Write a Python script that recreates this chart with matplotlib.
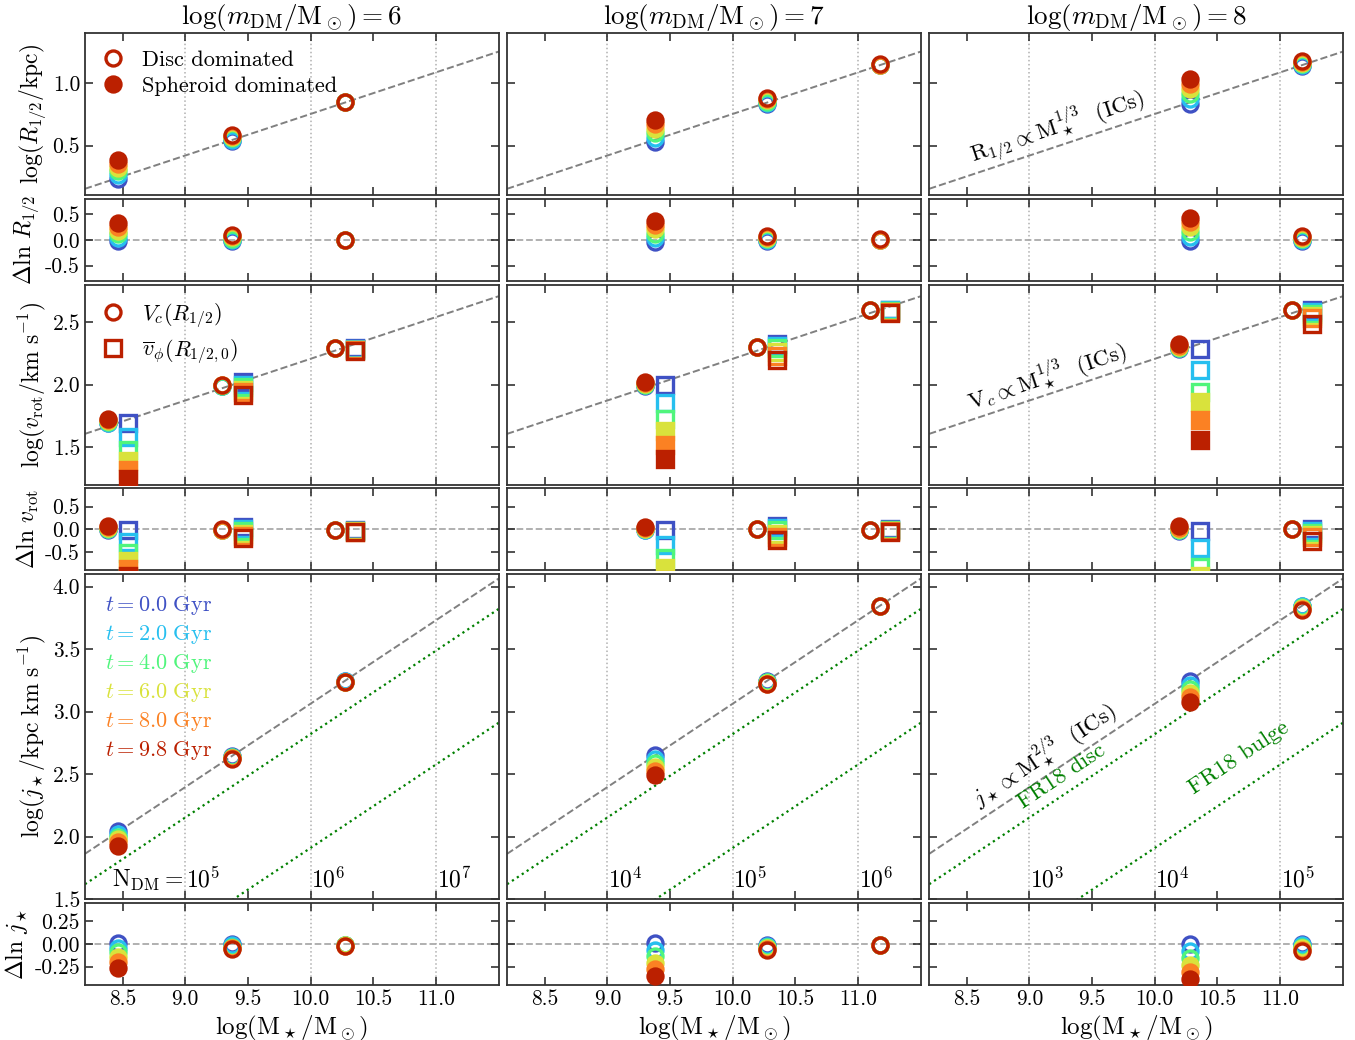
import numpy as np
import matplotlib
matplotlib.use("Agg")
import matplotlib.pyplot as plt
from matplotlib.lines import Line2D
from matplotlib.ticker import FormatStrFormatter

# Style proche de LaTeX (Computer Modern)
plt.rcParams['font.family'] = 'serif'
plt.rcParams['font.serif'] = ['cmr10']
plt.rcParams['mathtext.fontset'] = 'cm'
plt.rcParams['axes.unicode_minus'] = False
plt.rcParams['axes.formatter.use_mathtext'] = False

# ---- donnees ----
times = [0.0, 2.0, 4.0, 6.0, 8.0, 9.8]
time_colors = ['#3f51c4', '#26bfef', '#50f57c', '#d9e23c', '#fb8123', '#bb2000']
mdm_values = [6, 7, 8]

# log(M*/Msun) des galaxies, par resolution
logM_6 = [8.466, 9.377, 10.277]
logM_7 = [9.377, 10.277, 11.177]
logM_8 = [10.277, 11.177]

# log(R1/2 / kpc)
logR_6 = [[0.232, 0.262, 0.292, 0.322, 0.352, 0.385],
          [0.537, 0.547, 0.557, 0.567, 0.576, 0.585],
          [0.846, 0.846, 0.847, 0.847, 0.848, 0.848]]
logR_7 = [[0.527, 0.563, 0.599, 0.635, 0.671, 0.707],
          [0.835, 0.844, 0.852, 0.861, 0.870, 0.878],
          [1.145, 1.146, 1.147, 1.148, 1.149, 1.150]]
logR_8 = [[0.835, 0.875, 0.915, 0.955, 0.995, 1.030],
          [1.135, 1.144, 1.153, 1.162, 1.171, 1.180]]

# log(Vc(R1/2) / km s^-1)
logVc_6 = [[1.690, 1.695, 1.700, 1.710, 1.720, 1.728],
           [1.990, 1.990, 1.992, 1.995, 1.997, 2.000],
           [2.290, 2.290, 2.290, 2.290, 2.290, 2.290]]
logVc_7 = [[1.990, 1.995, 2.000, 2.005, 2.010, 2.020],
           [2.300, 2.300, 2.300, 2.300, 2.300, 2.300],
           [2.594, 2.594, 2.594, 2.594, 2.594, 2.594]]
logVc_8 = [[2.288, 2.290, 2.295, 2.300, 2.310, 2.328],
           [2.600, 2.600, 2.600, 2.600, 2.600, 2.600]]

# log(vphi(R1/2,0) / km s^-1)
logVphi_6 = [[1.693, 1.580, 1.474, 1.394, 1.320, 1.248],
             [2.020, 2.000, 1.980, 1.960, 1.940, 1.920],
             [2.290, 2.285, 2.280, 2.280, 2.275, 2.270]]
logVphi_7 = [[1.995, 1.853, 1.728, 1.629, 1.520, 1.408],
             [2.328, 2.310, 2.290, 2.260, 2.230, 2.195],
             [2.600, 2.595, 2.590, 2.585, 2.580, 2.575]]
logVphi_8 = [[2.288, 2.120, 1.940, 1.860, 1.720, 1.560],
             [2.600, 2.580, 2.565, 2.550, 2.530, 2.488]]

# log(j* / kpc km s^-1)
logj_6 = [[2.045, 2.020, 2.000, 1.980, 1.955, 1.925],
          [2.645, 2.640, 2.635, 2.630, 2.627, 2.622],
          [3.242, 3.241, 3.240, 3.240, 3.239, 3.238]]
logj_7 = [[2.650, 2.619, 2.588, 2.557, 2.526, 2.495],
          [3.241, 3.237, 3.233, 3.228, 3.224, 3.220],
          [3.842, 3.842, 3.842, 3.842, 3.842, 3.842]]
logj_8 = [[3.247, 3.214, 3.180, 3.147, 3.113, 3.080],
          [3.848, 3.841, 3.834, 3.827, 3.820, 3.813]]

# domine par le spheroide (symbole plein)
spheroid_6 = [[0, 0, 0, 1, 1, 1], [0] * 6, [0] * 6]
spheroid_7 = [[0, 0, 0, 1, 1, 1], [0] * 6, [0] * 6]
spheroid_8 = [[0, 0, 0, 1, 1, 1], [0] * 6]

# N_DM correspondant aux lignes verticales
ndm_ticks = [9.0, 10.0, 11.0]
ndm_labels_6 = ['10^5', '10^6', '10^7']
ndm_labels_7 = ['10^4', '10^5', '10^6']
ndm_labels_8 = ['10^3', '10^4', '10^5']

# relations de reference: valeur a x = 8.2 et pente
x_ref = 8.2
R_ic = (0.153, 1 / 3)
V_ic = (1.607, 1 / 3)
j_ic = (1.863, 2 / 3)
fr18_disc = (1.62, 2 / 3)
fr18_bulge = (0.71, 2 / 3)

columns = {
    6: dict(x=logM_6, R=logR_6, Vc=logVc_6, Vphi=logVphi_6, j=logj_6, sph=spheroid_6, ndm=ndm_labels_6),
    7: dict(x=logM_7, R=logR_7, Vc=logVc_7, Vphi=logVphi_7, j=logj_7, sph=spheroid_7, ndm=ndm_labels_7),
    8: dict(x=logM_8, R=logR_8, Vc=logVc_8, Vphi=logVphi_8, j=logj_8, sph=spheroid_8, ndm=ndm_labels_8),
}


def rel(p, x):
    return p[0] + p[1] * (np.asarray(x) - x_ref)


xlim = (8.2, 11.5)
ylims = [(0.1, 1.4), (-0.8, 0.8), (1.2, 2.8), (-0.9, 0.9), (1.5, 4.1), (-0.45, 0.45)]
yticks = [[0.5, 1.0], [-0.5, 0.0, 0.5], [1.5, 2.0, 2.5], [-0.5, 0.0, 0.5],
          [1.5, 2.0, 2.5, 3.0, 3.5, 4.0], [-0.25, 0.0, 0.25]]
ylabels = [r'$\log(R_{1/2}/\mathrm{kpc})$', r'$\Delta\ln\,R_{1/2}$',
           r'$\log(v_\mathrm{rot}/\mathrm{km\ s^{-1}})$', r'$\Delta\ln\,v_\mathrm{rot}$',
           r'$\log(j_\star/\mathrm{kpc\ km\ s^{-1}})$', r'$\Delta\ln\,j_\star$']

fig = plt.figure(figsize=(13.55, 10.4), dpi=100)
gs = fig.add_gridspec(6, 3, height_ratios=[162, 82, 200, 82, 325, 82],
                      left=0.0627, right=0.991, top=0.968, bottom=0.053,
                      hspace=0.023, wspace=0.0206)
axes = np.array([[fig.add_subplot(gs[r, c]) for c in range(3)] for r in range(6)])

ms_c = 10.8
ms_s = 11.2
mew = 2.4
dx = 0.08
ln10 = np.log(10)

for c, mdm in enumerate(mdm_values):
    d = columns[mdm]
    xg = np.array(d['x'])
    for r in range(6):
        ax = axes[r, c]
        ax.set_xlim(*xlim)
        ax.set_ylim(*ylims[r])
        ax.set_yticks(yticks[r])
        ax.set_xticks([8.5, 9.0, 9.5, 10.0, 10.5, 11.0])
        ax.xaxis.set_major_formatter(FormatStrFormatter('%.1f'))
        ax.yaxis.set_major_formatter(FormatStrFormatter('%.2f' if r == 5 else '%.1f'))
        ax.tick_params(direction='in', top=True, right=True, length=6, width=1.1,
                       labelsize=15.5, colors='#222222', labelcolor='black')
        for s in ax.spines.values():
            s.set_linewidth(1.3)
            s.set_color('#333333')
        for xv in ndm_ticks:
            ax.axvline(xv, color='#b0b0b0', ls=':', lw=1.1, zorder=0)
        if r in (1, 3, 5):
            ax.axhline(0, color='#aaaaaa', ls='--', lw=1.3, zorder=0)
        if c != 0:
            ax.set_yticklabels([])
        else:
            ax.set_ylabel(ylabels[r], fontsize=17, labelpad=3)
        if r != 5:
            ax.set_xticklabels([])
        else:
            ax.set_xlabel(r'$\log(\mathrm{M}_\star/\mathrm{M}_\odot)$', fontsize=18, labelpad=3)

    xx = np.array(xlim)
    axes[0, c].plot(xx, rel(R_ic, xx), ls='--', color='#808080', lw=1.4, zorder=1)
    axes[2, c].plot(xx, rel(V_ic, xx), ls='--', color='#808080', lw=1.4, zorder=1)
    axes[4, c].plot(xx, rel(j_ic, xx), ls='--', color='#808080', lw=1.4, zorder=1)
    axes[4, c].plot(xx, rel(fr18_disc, xx), ls=':', color='green', lw=1.6, zorder=1)
    axes[4, c].plot(xx, rel(fr18_bulge, xx), ls=':', color='green', lw=1.6, zorder=1)

    axes[0, c].set_title(r'$\log(m_\mathrm{DM}/\mathrm{M}_\odot)=%d$' % mdm, fontsize=19.5, pad=3)

    # points, dans l'ordre du temps
    for k, col in enumerate(time_colors):
        for g in range(len(xg)):
            fc = col if d['sph'][g][k] else 'none'
            R = d['R'][g][k]
            Vc = d['Vc'][g][k]
            Vp = d['Vphi'][g][k]
            J = d['j'][g][k]
            kw = dict(mec=col, mfc=fc, mew=mew, ls='none', zorder=3 + k)
            axes[0, c].plot(xg[g], R, 'o', ms=ms_c, **kw)
            axes[1, c].plot(xg[g], ln10 * (R - rel(R_ic, xg[g])), 'o', ms=ms_c, **kw)
            axes[2, c].plot(xg[g] - dx, Vc, 'o', ms=ms_c, **kw)
            axes[2, c].plot(xg[g] + dx, Vp, 's', ms=ms_s, **kw)
            axes[3, c].plot(xg[g] - dx, ln10 * (Vc - rel(V_ic, xg[g])), 'o', ms=ms_c, **kw)
            axes[3, c].plot(xg[g] + dx, ln10 * (Vp - rel(V_ic, xg[g])), 's', ms=ms_s, **kw)
            axes[4, c].plot(xg[g], J, 'o', ms=ms_c, **kw)
            axes[5, c].plot(xg[g], ln10 * (J - rel(j_ic, xg[g])), 'o', ms=ms_c, **kw)

    # etiquettes N_DM
    for xv, lab in zip(ndm_ticks, d['ndm']):
        axes[4, c].text(xv + 0.005, 1.595, r'$%s$' % lab, fontsize=17, ha='left', va='baseline')
    if c == 0:
        axes[4, c].text(8.985, 1.595, r'$\mathrm{N_{DM}}=$', fontsize=17, ha='right', va='baseline')

# legendes
red = time_colors[-1]
leg_kw = dict(loc='upper left', frameon=False, fontsize=16, handlelength=1.0,
              handletextpad=0.8, borderaxespad=0.45, labelspacing=0.32, borderpad=0.3)
h0 = [Line2D([], [], marker='o', ls='none', mec=red, mfc='none', mew=mew, ms=ms_c),
      Line2D([], [], marker='o', ls='none', mec=red, mfc=red, mew=mew, ms=ms_c)]
axes[0, 0].legend(h0, ['Disc dominated', 'Spheroid dominated'], **leg_kw)
h2 = [Line2D([], [], marker='o', ls='none', mec=red, mfc='none', mew=mew, ms=ms_c),
      Line2D([], [], marker='s', ls='none', mec=red, mfc='none', mew=mew, ms=ms_s)]
axes[2, 0].legend(h2, [r'$V_c(R_{1/2})$', r'$\overline{v}_\phi(R_{1/2,0})$'], **leg_kw)
h4 = [Line2D([], [], ls='none') for _ in times]
axes[4, 0].legend(h4, [r'$t=%.1f\ \mathrm{Gyr}$' % t for t in times], loc='upper left',
                  frameon=False, fontsize=16, handlelength=0, handletextpad=0,
                  labelcolor=time_colors, borderaxespad=0.5, labelspacing=0.27, borderpad=0.4)


def line_angle(ax, p):
    x0, x1 = 9.0, 10.0
    a = ax.transData.transform([(x0, rel(p, x0)), (x1, rel(p, x1))])
    return np.degrees(np.arctan2(a[1, 1] - a[0, 1], a[1, 0] - a[0, 0]))


# annotations le long des relations (colonne de droite)
ann_kw = dict(fontsize=16.5, rotation_mode='anchor', ha='left', va='bottom')
axr = axes[0, 2]
axr.text(8.57, rel(R_ic, 8.57) + 0.02, r'$\mathrm{R}_{1/2}\propto\mathrm{M}_\star^{1/3}\ $ (ICs)',
         rotation=line_angle(axr, R_ic), **ann_kw)
axr = axes[2, 2]
axr.text(8.55, rel(V_ic, 8.55) + 0.02, r'$\mathrm{V}_c\propto\mathrm{M}_\star^{1/3}\ $ (ICs)',
         rotation=line_angle(axr, V_ic), **ann_kw)
axr = axes[4, 2]
ang = line_angle(axr, j_ic)
axr.text(8.63, rel(j_ic, 8.63) + 0.03, r'$j_\star\propto\mathrm{M}_\star^{2/3}\ $ (ICs)',
         rotation=ang, **ann_kw)
axr.text(8.97, rel(fr18_disc, 8.97) + 0.06, 'FR18 disc', color='green',
         rotation=ang, **ann_kw)
axr.text(10.33, rel(fr18_bulge, 10.33) + 0.18, 'FR18 bulge', color='green',
         rotation=ang, **ann_kw)

fig.savefig('out.png', dpi=100)
